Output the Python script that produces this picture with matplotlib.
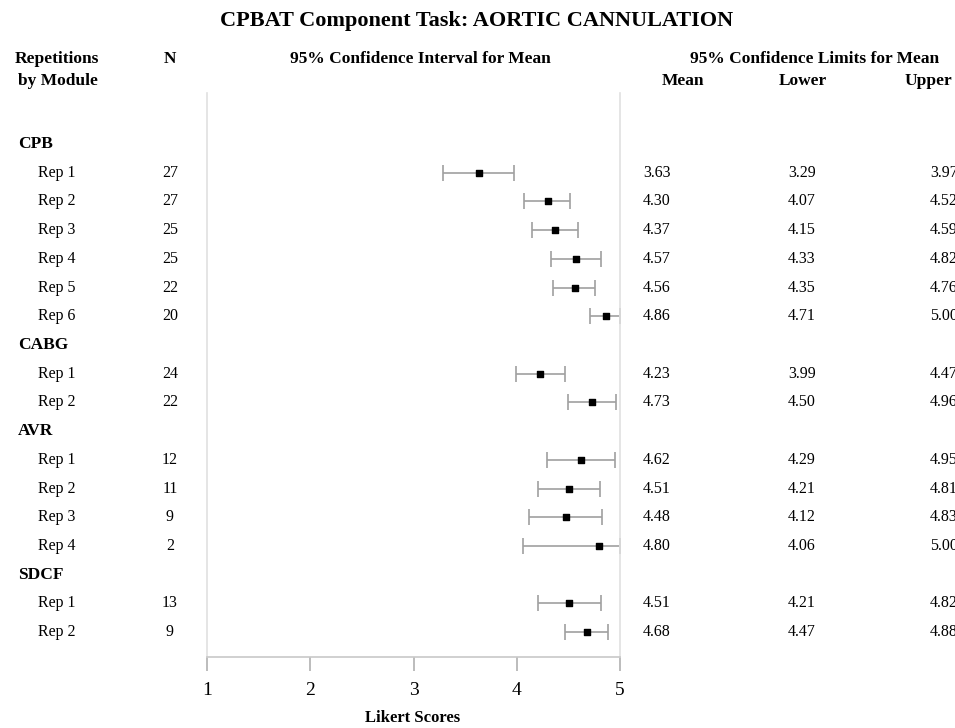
import matplotlib
matplotlib.use("Agg")
import matplotlib.pyplot as plt
from matplotlib.transforms import blended_transform_factory
import numpy as np

plt.rcParams['font.family'] = ['Liberation Serif', 'DejaVu Serif']

modules = ["CPB", "CABG", "AVR", "SDCF"]
reps = [
    ["Rep 1", "Rep 2", "Rep 3", "Rep 4", "Rep 5", "Rep 6"],
    ["Rep 1", "Rep 2"],
    ["Rep 1", "Rep 2", "Rep 3", "Rep 4"],
    ["Rep 1", "Rep 2"],
]
n_vals = [[27, 27, 25, 25, 22, 20], [24, 22], [12, 11, 9, 2], [13, 9]]
means = [[3.63, 4.30, 4.37, 4.57, 4.56, 4.86], [4.23, 4.73], [4.62, 4.51, 4.48, 4.80], [4.51, 4.68]]
lowers = [[3.29, 4.07, 4.15, 4.33, 4.35, 4.71], [3.99, 4.50], [4.29, 4.21, 4.12, 4.06], [4.21, 4.47]]
uppers = [[3.97, 4.52, 4.59, 4.82, 4.76, 5.00], [4.47, 4.96], [4.95, 4.81, 4.83, 5.00], [4.82, 4.88]]
xticks = [1, 2, 3, 4, 5]

W, H = 955, 728
fig = plt.figure(figsize=(W / 100, H / 100), dpi=100)
ax = fig.add_axes([207 / W, 1 - 657 / H, (620 - 207) / W, (657 - 93) / H])

# build rows
rows = []  # (kind, label, n, mean, lo, hi)
for m, rl, nl, ml, ll, ul in zip(modules, reps, n_vals, means, lowers, uppers):
    rows.append(("h", m, None, None, None, None))
    for r, n, mu, lo, hi in zip(rl, nl, ml, ll, ul):
        rows.append(("r", r, n, mu, lo, hi))

nrows = len(rows)
ax.set_xlim(1, 5)
ax.set_ylim(nrows - 1 + 0.87, -1.78)

ys = [i for i, r in enumerate(rows) if r[0] == "r"]
mu = np.array([rows[i][3] for i in ys])
lo = np.array([rows[i][4] for i in ys])
hi = np.array([rows[i][5] for i in ys])
ax.errorbar(mu, ys, xerr=[mu - lo, hi - mu], fmt='none', ecolor='#a0a0a0',
            elinewidth=1.2, capsize=6, capthick=1.2, zorder=2)
ax.scatter(mu, ys, marker='s', s=24, color='black', zorder=3)

ax.spines['top'].set_visible(False)
for s in ['left', 'right']:
    ax.spines[s].set_color('#e0e0e0')
    ax.spines[s].set_linewidth(1.2)
ax.spines['bottom'].set_color('#c8c8c8')
ax.spines['bottom'].set_linewidth(1.2)
ax.set_yticks([])
ax.set_xticks(xticks)
ax.set_xticklabels([str(t) for t in xticks], fontsize=14)
ax.tick_params(axis='x', length=10, width=1.2, color='#b0b0b0', pad=8)

tr = blended_transform_factory(fig.transFigure, ax.transData)
for i, (kind, lab, n, m, l, h) in enumerate(rows):
    if kind == "h":
        fig.text(18 / W, i, "\u2009".join(lab) if False else lab, transform=tr,
                 fontsize=12.5, fontweight='bold', va='center', ha='left')
    else:
        fig.text(38 / W, i, lab, transform=tr, fontsize=11.5, va='center', ha='left')
        fig.text(170 / W, i, str(n), transform=tr, fontsize=11.5, va='center', ha='center')
        fig.text(643 / W, i, f"{m:.2f}", transform=tr, fontsize=11.5, va='center', ha='left')
        fig.text(788 / W, i, f"{l:.2f}", transform=tr, fontsize=11.5, va='center', ha='left')
        fig.text(930 / W, i, f"{h:.2f}", transform=tr, fontsize=11.5, va='center', ha='left')

def ft(x, y, s, **kw):
    fig.text(x / W, 1 - y / H, s, va='center', fontweight='bold', **kw)

ft(477, 21, "CPBAT Component Task: AORTIC CANNULATION", ha='center', fontsize=16)
ft(15, 59, "Repetitions", ha='left', fontsize=12.5)
ft(18, 81, "by Module", ha='left', fontsize=12.5)
ft(170, 59, "N", ha='center', fontsize=12.5)
ft(420, 59, "95% Confidence Interval for Mean", ha='center', fontsize=12.5)
ft(815, 59, "95% Confidence Limits for Mean", ha='center', fontsize=12.5)
ft(683, 81, "Mean", ha='center', fontsize=12.5)
ft(803, 81, "Lower", ha='center', fontsize=12.5)
ft(905, 81, "Upper", ha='left', fontsize=12.5)
ft(413, 718, "Likert Scores", ha='center', fontsize=12)

fig.savefig("out.png", dpi=100)
